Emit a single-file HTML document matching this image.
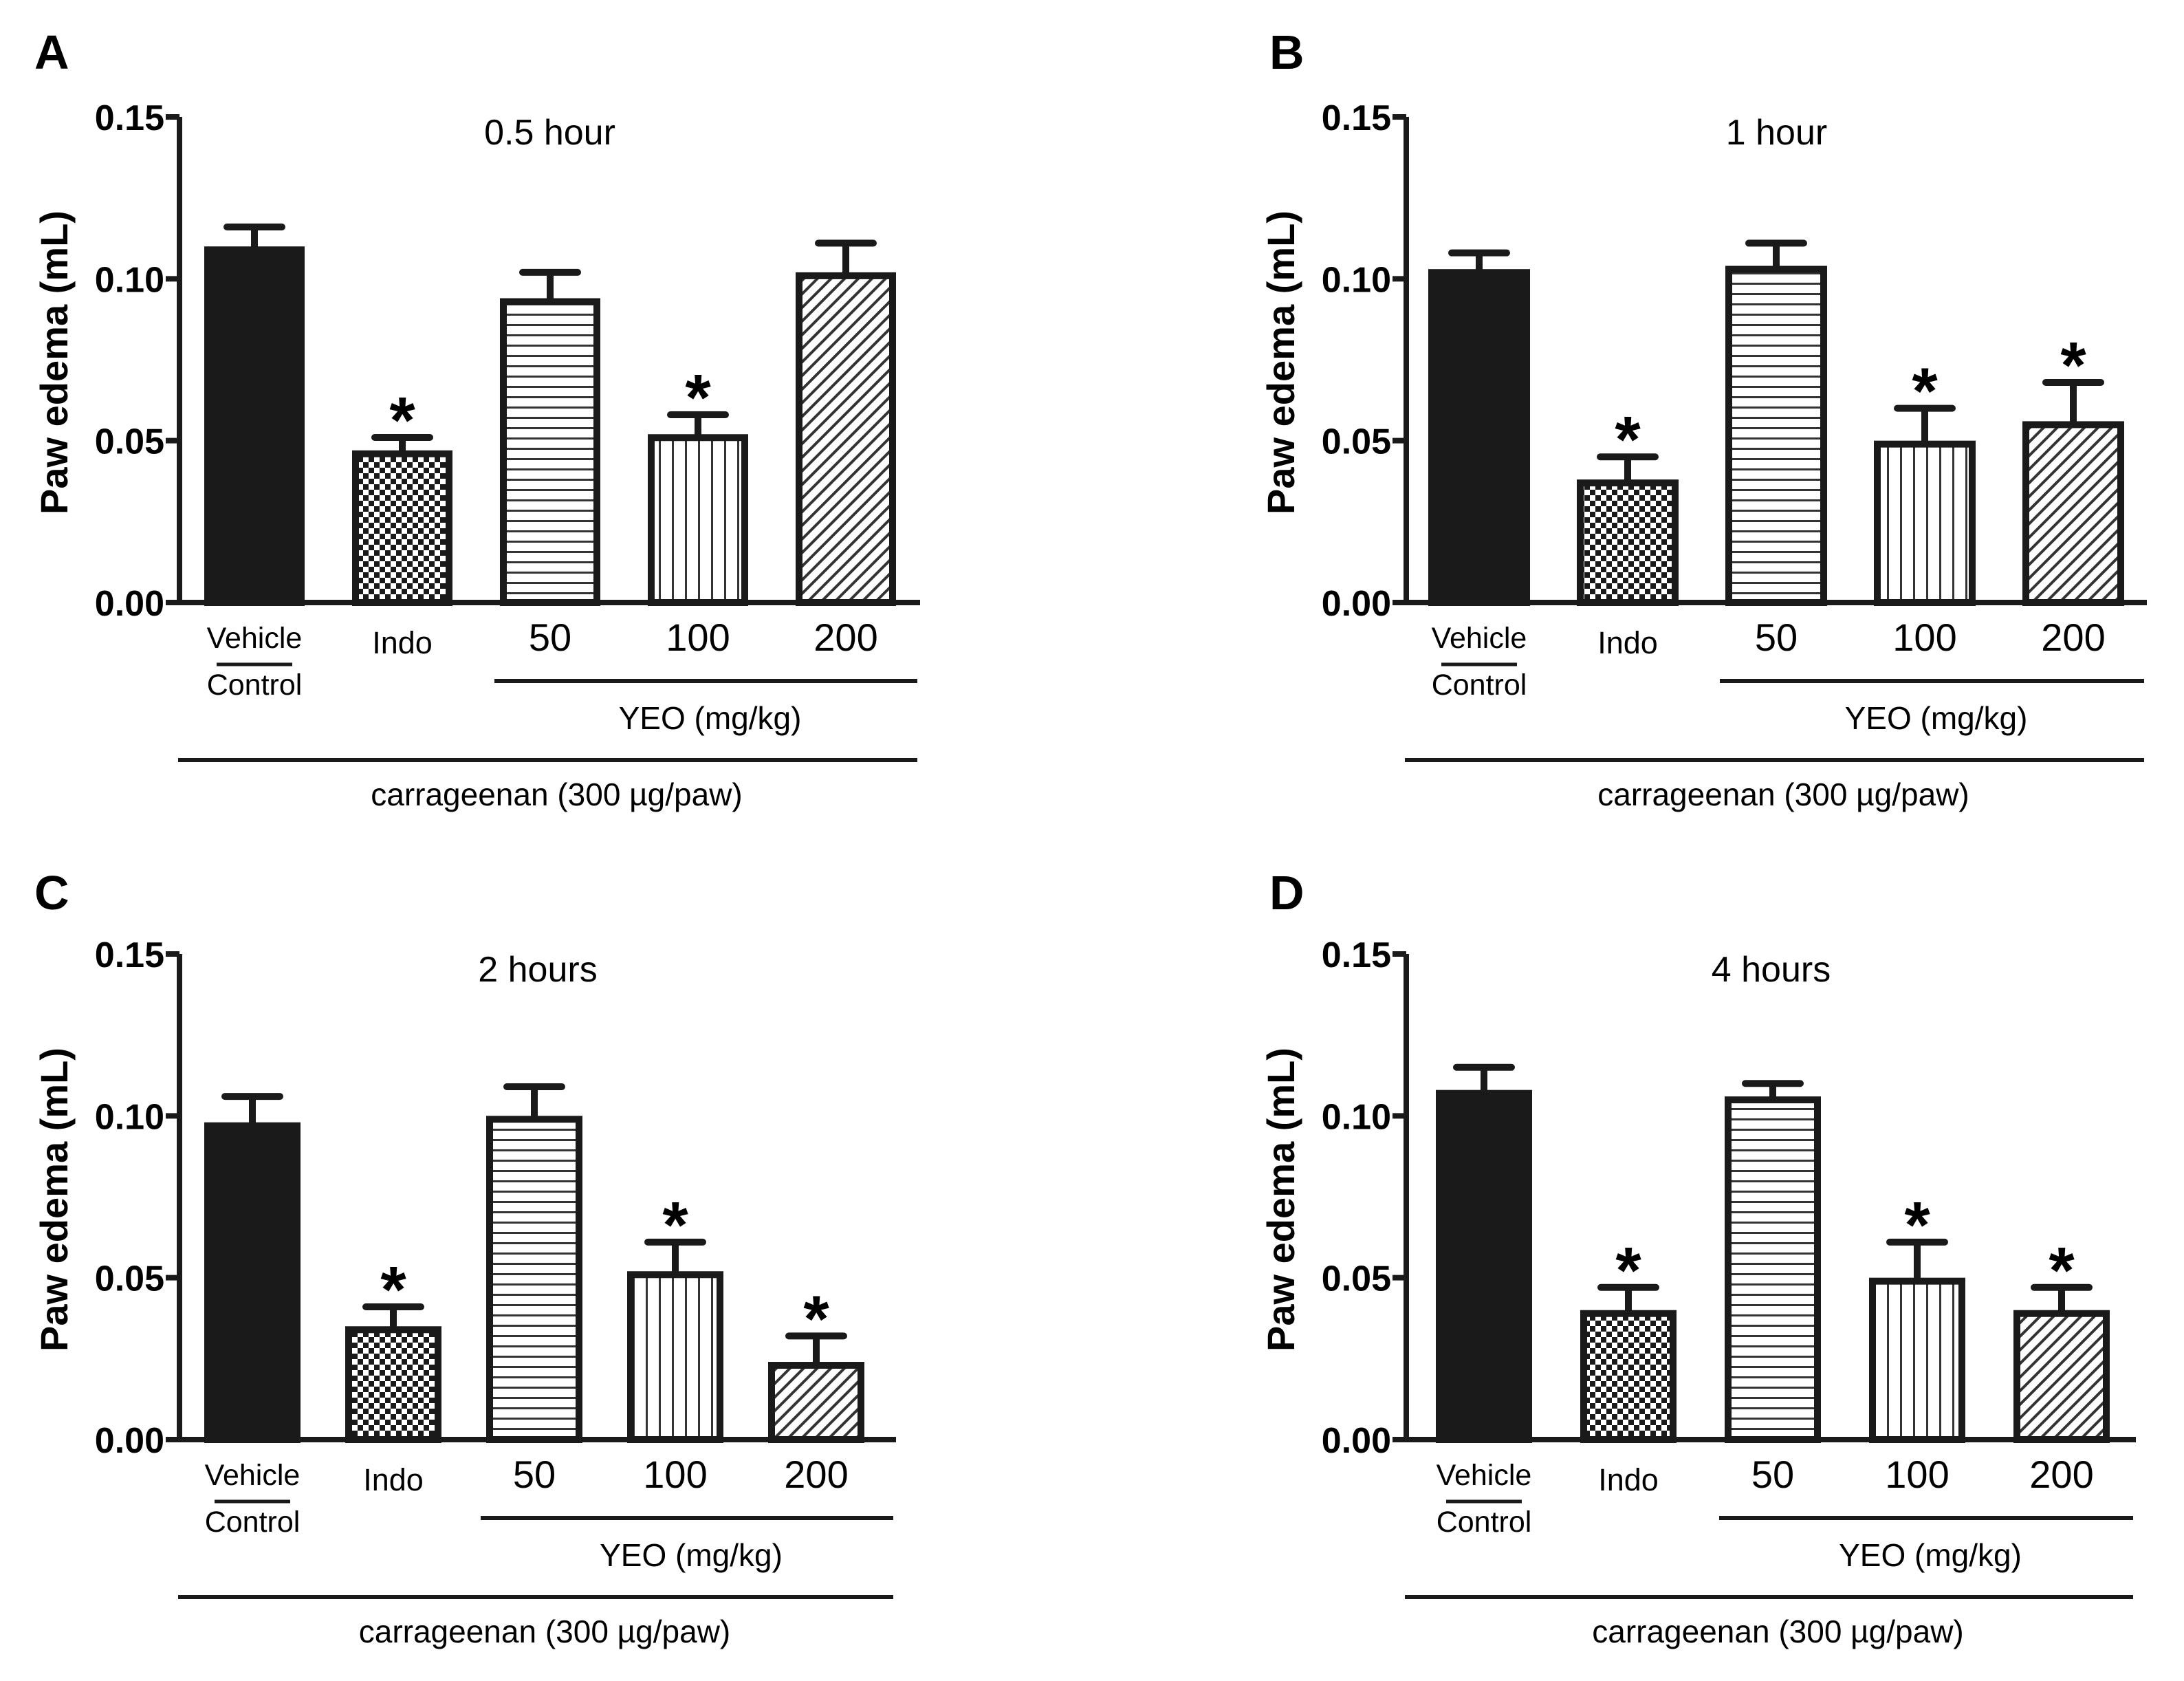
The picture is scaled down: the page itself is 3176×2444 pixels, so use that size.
<!DOCTYPE html>
<html><head><meta charset="utf-8"><style>
html,body{margin:0;padding:0;background:#fff;}
svg{display:block;font-family:"Liberation Sans",Arial,sans-serif;}
</style></head><body>
<svg id="fig" width="3176" height="2444" viewBox="0 0 3176 2444" xmlns="http://www.w3.org/2000/svg">
<defs>
<pattern id="pCheck" patternUnits="userSpaceOnUse" width="16" height="16">
<rect width="16" height="16" fill="#fff"/><rect width="8" height="8" fill="#1a1a1a"/><rect x="8" y="8" width="8" height="8" fill="#1a1a1a"/>
</pattern>
<pattern id="pHoriz" patternUnits="userSpaceOnUse" width="20" height="15">
<rect width="20" height="15" fill="#fff"/><rect y="6" width="20" height="3" fill="#333"/>
</pattern>
<pattern id="pVert" patternUnits="userSpaceOnUse" width="19" height="20">
<rect width="19" height="20" fill="#fff"/><rect x="8" width="3" height="20" fill="#333"/>
</pattern>
<pattern id="pDiag" patternUnits="userSpaceOnUse" width="14" height="14" patternTransform="rotate(45)">
<rect width="14" height="14" fill="#fff"/><rect x="5" width="4" height="14" fill="#333"/>
</pattern>
</defs>
<g id="root"></g>
</svg>
<script>
const categories = ["Vehicle/Control","Indo","50","100","200"];
const yTicks = [0, 0.05, 0.10, 0.15];
const yTickLabels = ["0.00","0.05","0.10","0.15"];
const titles = ["0.5 hour","1 hour","2 hours","4 hours"];
const panelLetters = ["A","B","C","D"];
const meansA = [0.110, 0.047, 0.094, 0.052, 0.102];
const errsA  = [0.006, 0.004, 0.008, 0.006, 0.009];
const starsA = [0, 1, 0, 1, 0];
const meansB = [0.103, 0.038, 0.104, 0.050, 0.056];
const errsB  = [0.005, 0.007, 0.007, 0.010, 0.012];
const starsB = [0, 1, 0, 1, 1];
const meansC = [0.098, 0.035, 0.100, 0.052, 0.024];
const errsC  = [0.008, 0.006, 0.009, 0.009, 0.008];
const starsC = [0, 1, 0, 1, 1];
const meansD = [0.108, 0.040, 0.106, 0.050, 0.040];
const errsD  = [0.007, 0.007, 0.004, 0.011, 0.007];
const starsD = [0, 1, 0, 1, 1];

const NS = "http://www.w3.org/2000/svg";
const root = document.getElementById('root');
const fills = ["#1a1a1a","url(#pCheck)","url(#pHoriz)","url(#pVert)","url(#pDiag)"];
function mk(tag, attrs, parent, text){
  const e = document.createElementNS(NS, tag);
  for (const k in attrs) e.setAttribute(k, attrs[k]);
  if (text !== undefined) e.textContent = text;
  (parent||root).appendChild(e);
  return e;
}
const layouts = [
  {ax:261, y0:876, y15:170, first:297, step:215, w:146, end:1338, letterX:50, letterY:100},
  {ax:2045, y0:876, y15:170, first:2077, step:216, w:148, end:3122, letterX:1846, letterY:100},
  {ax:261, y0:2093, y15:1387, first:297, step:205, w:140, end:1303, letterX:50, letterY:1322},
  {ax:2045, y0:2093, y15:1387, first:2088, step:210, w:140, end:3106, letterX:1846, letterY:1322}
];
const allMeans = [meansA, meansB, meansC, meansD];
const allErrs = [errsA, errsB, errsC, errsD];
const allStars = [starsA, starsB, starsC, starsD];

layouts.forEach((L, p) => {
  const g = mk('g', {});
  
  
  const yS = v => L.y0 - (v / 0.15) * (L.y0 - L.y15);
  const xL = i => L.first + i * L.step;
  const xC = i => xL(i) + L.w / 2;

  const letter = mk('text', {x:L.letterX, y:L.letterY, 'font-size':70, 'font-weight':'bold'}, g, panelLetters[p]);
  
  

  const title = mk('text', {x:(L.ax + L.end) / 2, y:L.y15 + 40, 'font-size':52, 'text-anchor':'middle'}, g, titles[p]);
  
  

  allMeans[p].forEach((v, i) => {
    const top = yS(v);
    const bar = mk('rect', {x:xL(i)+5, y:top+5, width:L.w-10, height:L.y0-top-5, fill:fills[i], stroke:'#1a1a1a', 'stroke-width':10}, g);
    
    
    const eTop = yS(v + allErrs[p][i]);
    const eb = mk('path', {d:'M'+xC(i)+','+top+' V'+eTop+' M'+(xC(i)-40)+','+eTop+' H'+(xC(i)+40), stroke:'#1a1a1a', 'stroke-width':10, 'stroke-linecap':'round', fill:'none'}, g);
    
    
    if (allStars[p][i]) {
      const st = mk('text', {x:xC(i), y:eTop + 8, 'font-size':96, 'font-weight':'bold', 'text-anchor':'middle'}, g, '*');
      
      
    }
  });

  const axis = mk('path', {d:'M'+L.ax+','+L.y15+' V'+L.y0+' H'+L.end, stroke:'#1a1a1a', 'stroke-width':8, fill:'none'}, g);
  
  
  yTicks.forEach((t, k) => {
    const tk = mk('line', {x1:L.ax-20, x2:L.ax, y1:yS(t), y2:yS(t), stroke:'#1a1a1a', 'stroke-width':8}, g);
    
    
    const tl = mk('text', {x:L.ax-22, y:yS(t)+19, 'font-size':52, 'font-weight':'bold', 'text-anchor':'end'}, g, yTickLabels[k]);
    
    
  });
  const yt = mk('text', {x:0, y:0, 'font-size':56, 'font-weight':'bold', 'text-anchor':'middle', transform:'translate('+(L.ax-163)+','+((L.y0+L.y15)/2+4)+') rotate(-90)'}, g, 'Paw edema (mL)');
  
  

  const base = L.y0;
  const veh = mk('text', {x:xC(0), y:base+66, 'font-size':43, 'text-anchor':'middle'}, g, 'Vehicle');
  
  
  const vl = mk('line', {x1:xC(0)-55, x2:xC(0)+55, y1:base+90, y2:base+90, stroke:'#1a1a1a', 'stroke-width':5}, g);
  
  
  const ctl = mk('text', {x:xC(0), y:base+134, 'font-size':43, 'text-anchor':'middle'}, g, 'Control');
  
  
  const indo = mk('text', {x:xC(1), y:base+74, 'font-size':45, 'text-anchor':'middle'}, g, 'Indo');
  
  
  for (let i = 2; i < 5; i++) {
    const d = mk('text', {x:xC(i), y:base+70, 'font-size':56, 'text-anchor':'middle'}, g, categories[i]);
    
    
  }
  const yl = mk('line', {x1:xL(2)-8, x2:L.end-4, y1:base+114, y2:base+114, stroke:'#1a1a1a', 'stroke-width':6}, g);
  
  
  const yeo = mk('text', {x:(xL(2)+L.end)/2, y:base+184, 'font-size':46, 'text-anchor':'middle'}, g, 'YEO (mg/kg)');
  
  
  const cl = mk('line', {x1:L.ax-2, x2:L.end-4, y1:base+229, y2:base+229, stroke:'#1a1a1a', 'stroke-width':6}, g);
  
  
  const car = mk('text', {x:(L.ax+L.end)/2+10, y:base+295, 'font-size':46, 'text-anchor':'middle'}, g, 'carrageenan (300 \u00b5g/paw)');
  
  
});
</script>
</body></html>
